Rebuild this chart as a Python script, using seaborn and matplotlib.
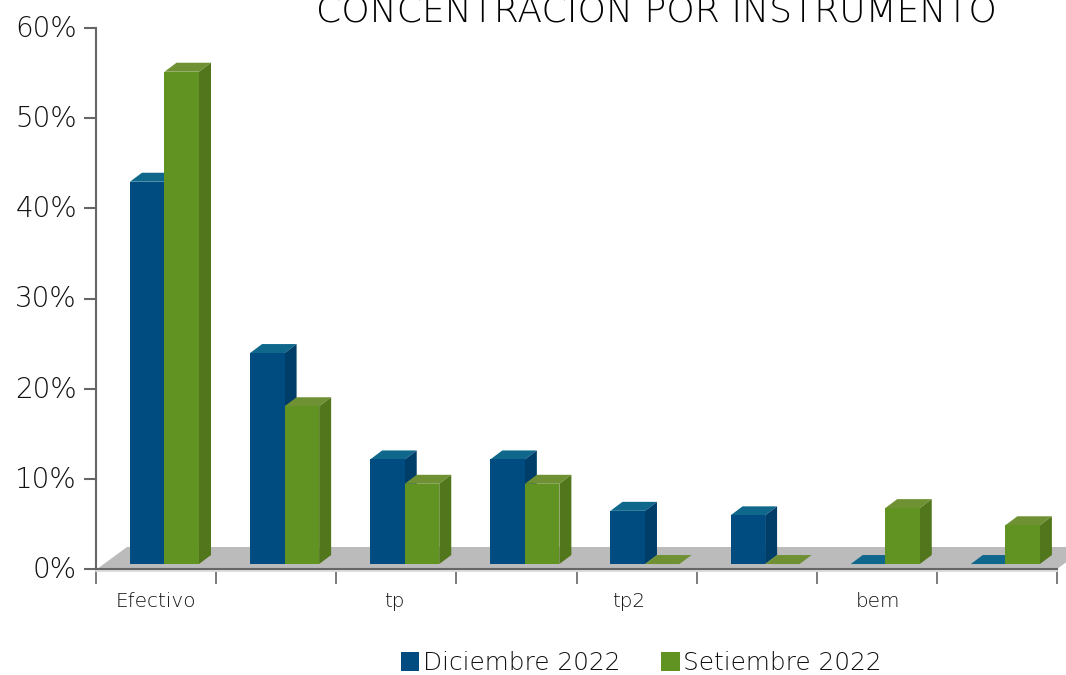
import numpy as np
import pandas as pd
import matplotlib
matplotlib.use("Agg")
import matplotlib.pyplot as plt
from matplotlib.patches import Polygon, Patch
from matplotlib.ticker import PercentFormatter
from matplotlib.transforms import ScaledTranslation
import seaborn as sns

categories = ["Efectivo", "cat2", "tp", "cat4", "tp2", "cat6", "bem", "cat8"]
tick_labels = ["Efectivo", "tp", "tp2", "bem"]
label_slots = [-0.07, 1.91, 3.86, 5.94]
dic_2022 = [42.4, 23.4, 11.6, 11.6, 5.9, 5.4, 0.0, 0.0]
set_2022 = [54.6, 17.5, 8.9, 8.9, 0.0, 0.0, 6.2, 4.3]
series_names = ["Diciembre 2022", "Setiembre 2022"]

FRONT = ["#004B80", "#619322"]
TOP = ["#0F688C", "#6F9133"]
SIDE = ["#003E6A", "#52761B"]
AXIS = "#666666"
TEXT = "#111111"

sns.set_theme(style="white")
plt.rcParams["font.family"] = ["DejaVu Sans"]
plt.rcParams["font.weight"] = 200
plt.rcParams["axes.titleweight"] = 200

W, H = 1066, 675
fig = plt.figure(figsize=(W / 100, H / 100), dpi=100)
ax = fig.add_axes([96 / W, 1 - 569 / H, 961 / W, 541 / H])

df = pd.DataFrame({
    "cat": categories * 2,
    "val": dic_2022 + set_2022,
    "serie": [series_names[0]] * 8 + [series_names[1]] * 8,
})
sns.barplot(data=df, x="cat", y="val", hue="serie", order=categories,
            hue_order=series_names, palette=FRONT, width=0.575, gap=0,
            dodge=True, saturation=1, legend=False, ax=ax,
            bottom=0.55, linewidth=0, zorder=3)

x0 = -0.57
ax.set_xlim(x0, x0 + 8)
ax.set_ylim(0, 60)

# 3D depth, in data units
DX = 12 / 120.1
DY = 9 / 9.017

for s, cont in enumerate(ax.containers):
    z = 3 + 2 * s
    for bar in cont:
        bar.set_zorder(z + 1)
        x, w = bar.get_x(), bar.get_width()
        b, h = bar.get_y(), bar.get_height()
        t = b + h
        ax.add_patch(Polygon([(x, t), (x + w, t), (x + w + DX, t + DY), (x + DX, t + DY)],
                             closed=True, fc=TOP[s], ec="none", zorder=z))
        if h > 0:
            ax.add_patch(Polygon([(x + w, b), (x + w + DX, b + DY), (x + w + DX, t + DY), (x + w, t)],
                                 closed=True, fc=SIDE[s], ec="none", zorder=z))

# floor of the 3D scene
fx, fy = 30 / 120.1, 22 / 9.017
fl = x0 + 1 / 120.1
ax.add_patch(Polygon([(fl, 0), (x0 + 8, 0), (x0 + 8 + fx, fy), (fl + fx, fy)],
                     closed=True, fc="#BBBBBB", ec="none", zorder=1, clip_on=False))
ax.plot([x0, x0 + 8], [-0.27, -0.27], color="#DDDDDD", lw=1.5, clip_on=False, zorder=1)

for side in ["top", "right"]:
    ax.spines[side].set_visible(False)
for side in ["left", "bottom"]:
    ax.spines[side].set_color(AXIS)
    ax.spines[side].set_linewidth(1.5)
    ax.spines[side].set_zorder(2)

ax.set_xlabel("")
ax.set_ylabel("")
ax.set_yticks(np.arange(0, 61, 10))
ax.yaxis.set_major_formatter(PercentFormatter(decimals=0))
ax.tick_params(axis="y", left=True, length=8.6, width=1.5, color=AXIS, pad=5,
               labelsize=20, labelcolor=TEXT)
for lab in ax.get_yticklabels():
    lab.set_transform(lab.get_transform() + ScaledTranslation(0, 1.5 / 72, fig.dpi_scale_trans))

ax.set_xticks(x0 + np.arange(9))
ax.set_xticklabels([""] * 9)
ax.tick_params(axis="x", which="major", bottom=True, length=10.8, width=1.2, color=AXIS)
ax.set_xticks(label_slots, labels=tick_labels, minor=True)
ax.tick_params(axis="x", which="minor", bottom=False, length=0, pad=16.5,
               labelsize=14.4, labelcolor=TEXT)

ax.set_title("CONCENTRACION POR INSTRUMENTO", x=(656 - 96) / 961, y=1 + 7 / 541,
             fontsize=26, color="#000000", pad=0, loc="center", clip_on=False)

handles = [Patch(fc=FRONT[0], ec="none"), Patch(fc=FRONT[1], ec="none")]
ax.legend(handles, series_names, ncol=2, frameon=False, fontsize=17.8,
          loc="center", bbox_to_anchor=((641 - 96) / 961, -(663 - 569) / 541),
          handlelength=0.76, handleheight=0.76, handletextpad=0.13,
          columnspacing=1.65, labelcolor=TEXT, borderpad=0, borderaxespad=0)

fig.savefig("out.png", dpi=100)
